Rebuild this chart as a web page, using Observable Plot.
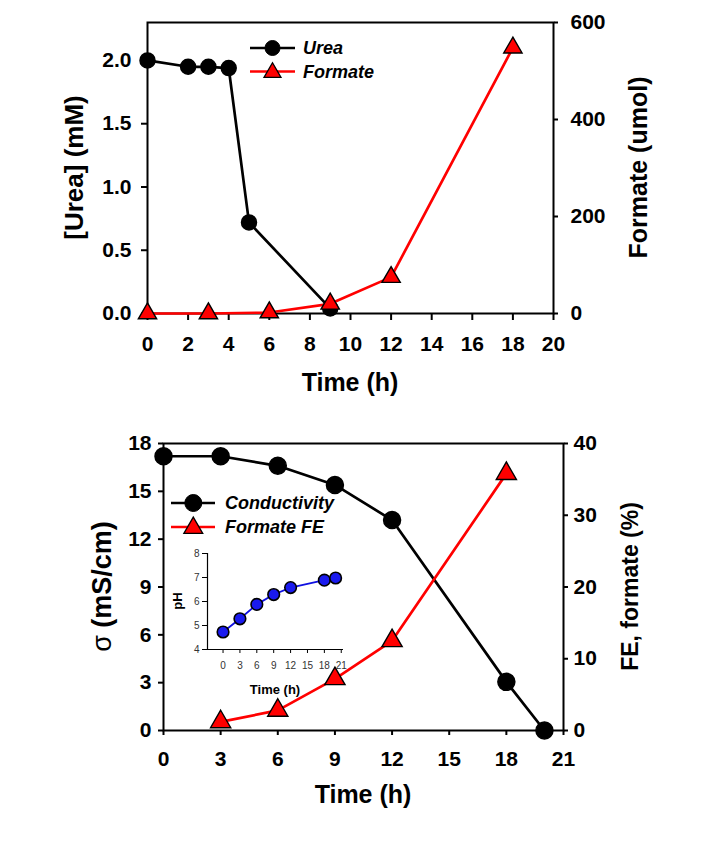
<!DOCTYPE html>
<html>
<head>
<meta charset="utf-8">
<script src="https://cdn.jsdelivr.net/npm/d3@7"></script>
<script src="https://cdn.jsdelivr.net/npm/@observablehq/plot@0.6"></script>
<style>
  html, body { margin: 0; padding: 0; background: #ffffff; }
  #page { position: relative; width: 725px; height: 842px; overflow: hidden; background: #fff; }
  #page > svg { position: absolute; }
</style>
</head>
<body>
<div id="page"></div>
<script>
// ---------- DATA ----------
// Top panel
const ureaTime = [0, 2, 3, 4, 5, 9];
const ureaConc = [2.0, 1.95, 1.95, 1.94, 0.72, 0.04];
const formateTime = [0, 3, 6, 9, 12, 18];
const formateUmol = [0, 0, 2, 20, 75, 548];
const topTimeTicks = [0, 2, 4, 6, 8, 10, 12, 14, 16, 18, 20];
const ureaTicks = [0, 0.5, 1.0, 1.5, 2.0];
const formateTicks = [0, 200, 400, 600];
const topLegend = ["Urea", "Formate"];

// Bottom panel
const condTime = [0, 3, 6, 9, 12, 18, 20];
const conductivity = [17.2, 17.2, 16.6, 15.4, 13.2, 3.05, 0];
const feTime = [3, 6, 9, 12, 18];
const formateFE = [1.2, 2.8, 7.2, 12.5, 35.8];
const botTimeTicks = [0, 3, 6, 9, 12, 15, 18, 21];
const sigmaTicks = [0, 3, 6, 9, 12, 15, 18];
const feTicks = [0, 10, 20, 30, 40];
const botLegend = ["Conductivity", "Formate FE"];

// Inset
const phTime = [0, 3, 6, 9, 12, 18, 20];
const phValue = [4.73, 5.28, 5.88, 6.29, 6.58, 6.89, 6.98];
const insetTimeTicks = [0, 3, 6, 9, 12, 15, 18, 21];
const phTicks = [4, 5, 6, 7, 8];

// ---------- STYLE ----------
const FONT = "'Liberation Sans', Arial, Helvetica, sans-serif";
const RED = "#ff0000";

const page = document.getElementById("page");

function legendMark(labels, o) {
  return () => {
    const g = d3.create("svg:g").attr("font-family", FONT);
    labels.forEach((lab, i) => {
      const y = o.y0 + i * o.gap;
      g.append("line").attr("x1", o.x1).attr("x2", o.x2).attr("y1", y).attr("y2", y)
        .attr("stroke", i === 0 ? "black" : RED).attr("stroke-width", 2.5);
      if (i === 0) {
        g.append("circle").attr("cx", o.xm).attr("cy", y).attr("r", o.rc)
          .attr("fill", "black").attr("stroke", "black");
      } else {
        g.append("path").attr("transform", `translate(${o.xm},${y + 1})`)
          .attr("d", d3.symbol(d3.symbolTriangle, Math.PI * o.rt * o.rt)())
          .attr("fill", RED).attr("stroke", "black").attr("stroke-width", 1.3);
      }
      g.append("text").attr("x", o.xt).attr("y", y).attr("dy", "0.36em")
        .attr("text-anchor", "start")
        .attr("font-size", o.fs).attr("font-weight", "bold").attr("font-style", "italic")
        .attr("fill", "black").text(lab);
    });
    return g.node();
  };
}

// axis title: parts = [[text, weight], ...]; side = "left" | "right" | "bottom"
function titleMark(parts, side, off, fs) {
  if (typeof parts === "string") parts = [[parts, "bold"]];
  return (index, scales, values, dim) => {
    const {width, height, marginLeft, marginRight, marginTop, marginBottom} = dim;
    const cx = (marginLeft + width - marginRight) / 2;
    const cy = (marginTop + height - marginBottom) / 2;
    const t = d3.create("svg:text")
      .attr("font-family", FONT).attr("font-size", fs)
      .attr("text-anchor", "middle").attr("fill", "black").attr("dy", "0.36em");
    parts.forEach(([s, w]) => t.append("tspan").attr("font-weight", w).text(s));
    if (side === "left") t.attr("transform", `translate(${marginLeft - off},${cy}) rotate(-90)`);
    else if (side === "right") t.attr("transform", `translate(${width - marginRight + off},${cy}) rotate(-90)`);
    else t.attr("transform", `translate(${cx},${height - marginBottom + off})`);
    return t.node();
  };
}

// ---------- TOP PANEL ----------
const K1 = 2.3 / 600; // right axis (umol) -> left axis (mM)
const ureaData = ureaTime.map((t, i) => ({t, v: ureaConc[i]}));
const formData = formateTime.map((t, i) => ({t, v: formateUmol[i] * K1}));

const topChart = Plot.plot({
  width: 725, height: 420,
  marginLeft: 147, marginRight: 172, marginTop: 22, marginBottom: 107,
  x: {domain: [0, 20]},
  y: {domain: [0, 2.3]},
  style: {fontFamily: FONT, color: "black", background: "transparent", overflow: "visible"},
  marks: [
    Plot.axisX(topTimeTicks, {anchor: "bottom", tickSize: 7, tickPadding: 16, fontSize: 21, fontWeight: "bold", label: null, strokeWidth: 2}),
    Plot.axisY(ureaTicks, {anchor: "left", tickSize: 6, tickPadding: 10, fontSize: 21, fontWeight: "bold", label: null, strokeWidth: 2, tickFormat: d3.format(".1f")}),
    Plot.axisY(formateTicks.map(v => v * K1), {anchor: "right", tickSize: 4, tickPadding: 13, fontSize: 21, fontWeight: "bold", label: null, strokeWidth: 2, tickFormat: v => String(Math.round(v / K1))}),
    Plot.frame({stroke: "black", strokeWidth: 2}),
    Plot.line(ureaData, {x: "t", y: "v", stroke: "black", strokeWidth: 2.7}),
    Plot.dot(ureaData, {x: "t", y: "v", r: 7.5, fill: "black", stroke: "black"}),
    Plot.line(formData, {x: "t", y: "v", stroke: RED, strokeWidth: 2.7}),
    Plot.dot(formData, {x: "t", y: "v", symbol: "triangle", r: 6.8, fill: RED, stroke: "black", strokeWidth: 1.4}),
    titleMark("[Urea] (mM)", "left", 73, 26),
    titleMark("Formate (umol)", "right", 85, 25),
    titleMark("Time (h)", "bottom", 69, 25),
    legendMark(topLegend, {x1: 250, x2: 295, xm: 272.5, xt: 303, y0: 48, gap: 23.5, rc: 7.5, rt: 6.3, fs: 18})
  ]
});
topChart.style.left = "0px";
topChart.style.top = "0px";
page.appendChild(topChart);

// ---------- BOTTOM PANEL ----------
const K2 = 18 / 40; // right axis (%) -> left axis (mS/cm)
const condData = condTime.map((t, i) => ({t, v: conductivity[i]}));
const feData = feTime.map((t, i) => ({t, v: formateFE[i] * K2}));

const botChart = Plot.plot({
  width: 725, height: 422,
  marginLeft: 163, marginRight: 162, marginTop: 23, marginBottom: 112,
  x: {domain: [0, 21]},
  y: {domain: [0, 18]},
  style: {fontFamily: FONT, color: "black", background: "transparent", overflow: "visible"},
  marks: [
    Plot.axisX(botTimeTicks, {anchor: "bottom", tickSize: 5, tickPadding: 16, fontSize: 21, fontWeight: "bold", label: null, strokeWidth: 2}),
    Plot.axisY(sigmaTicks, {anchor: "left", tickSize: 5, tickPadding: 7, fontSize: 21, fontWeight: "bold", label: null, strokeWidth: 2}),
    Plot.axisY(feTicks.map(v => v * K2), {anchor: "right", tickSize: 4, tickPadding: 6, fontSize: 21, fontWeight: "bold", label: null, strokeWidth: 2, tickFormat: v => String(Math.round(v / K2))}),
    Plot.frame({stroke: "black", strokeWidth: 2}),
    Plot.line(condData, {x: "t", y: "v", stroke: "black", strokeWidth: 2.7}),
    Plot.dot(condData, {x: "t", y: "v", r: 8.5, fill: "black", stroke: "black"}),
    Plot.line(feData, {x: "t", y: "v", stroke: RED, strokeWidth: 2.7}),
    Plot.dot(feData, {x: "t", y: "v", symbol: "triangle", r: 7.5, fill: RED, stroke: "black", strokeWidth: 1.4}),
    titleMark([["σ", "normal"], [" (mS/cm)", "bold"]], "left", 62, 27),
    titleMark("FE, formate (%)", "right", 67, 23),
    titleMark("Time (h)", "bottom", 64, 25),
    legendMark(botLegend, {x1: 171, x2: 215, xm: 193.3, xt: 225, y0: 83, gap: 24, rc: 8.5, rt: 7, fs: 18})
  ]
});
botChart.style.left = "0px";
botChart.style.top = "420px";
page.appendChild(botChart);

// ---------- INSET ----------
const phData = phTime.map((t, i) => ({t, v: phValue[i]}));
const inXDomain = [-2.76, 21.4];
const insetChart = Plot.plot({
  width: 210, height: 170,
  marginLeft: 57, marginRight: 17, marginTop: 23, marginBottom: 51,
  x: {domain: inXDomain},
  y: {domain: [4, 8]},
  style: {fontFamily: FONT, color: "black", background: "transparent", overflow: "visible"},
  marks: [
    Plot.axisX(insetTimeTicks, {anchor: "bottom", tickSize: 4, tickPadding: 8, fontSize: 10, fill: "#333", label: null}),
    Plot.axisY(phTicks, {anchor: "left", tickSize: 5, tickPadding: 3, fontSize: 10, fill: "#333", label: null}),
    Plot.ruleX([inXDomain[0]], {stroke: "black", strokeWidth: 1.2}),
    Plot.ruleY([4], {stroke: "black", strokeWidth: 1.2}),
    Plot.line(phData, {x: "t", y: "v", stroke: "#1010e0", strokeWidth: 1.8}),
    Plot.dot(phData, {x: "t", y: "v", r: 5.8, fill: "#1a1aee", stroke: "black", strokeWidth: 1.6}),
    titleMark("pH", "left", 30, 13),
    titleMark("Time (h)", "bottom", 40, 13)
  ]
});
insetChart.style.left = "150px";
insetChart.style.top = "530px";
page.appendChild(insetChart);
</script>
</body>
</html>
